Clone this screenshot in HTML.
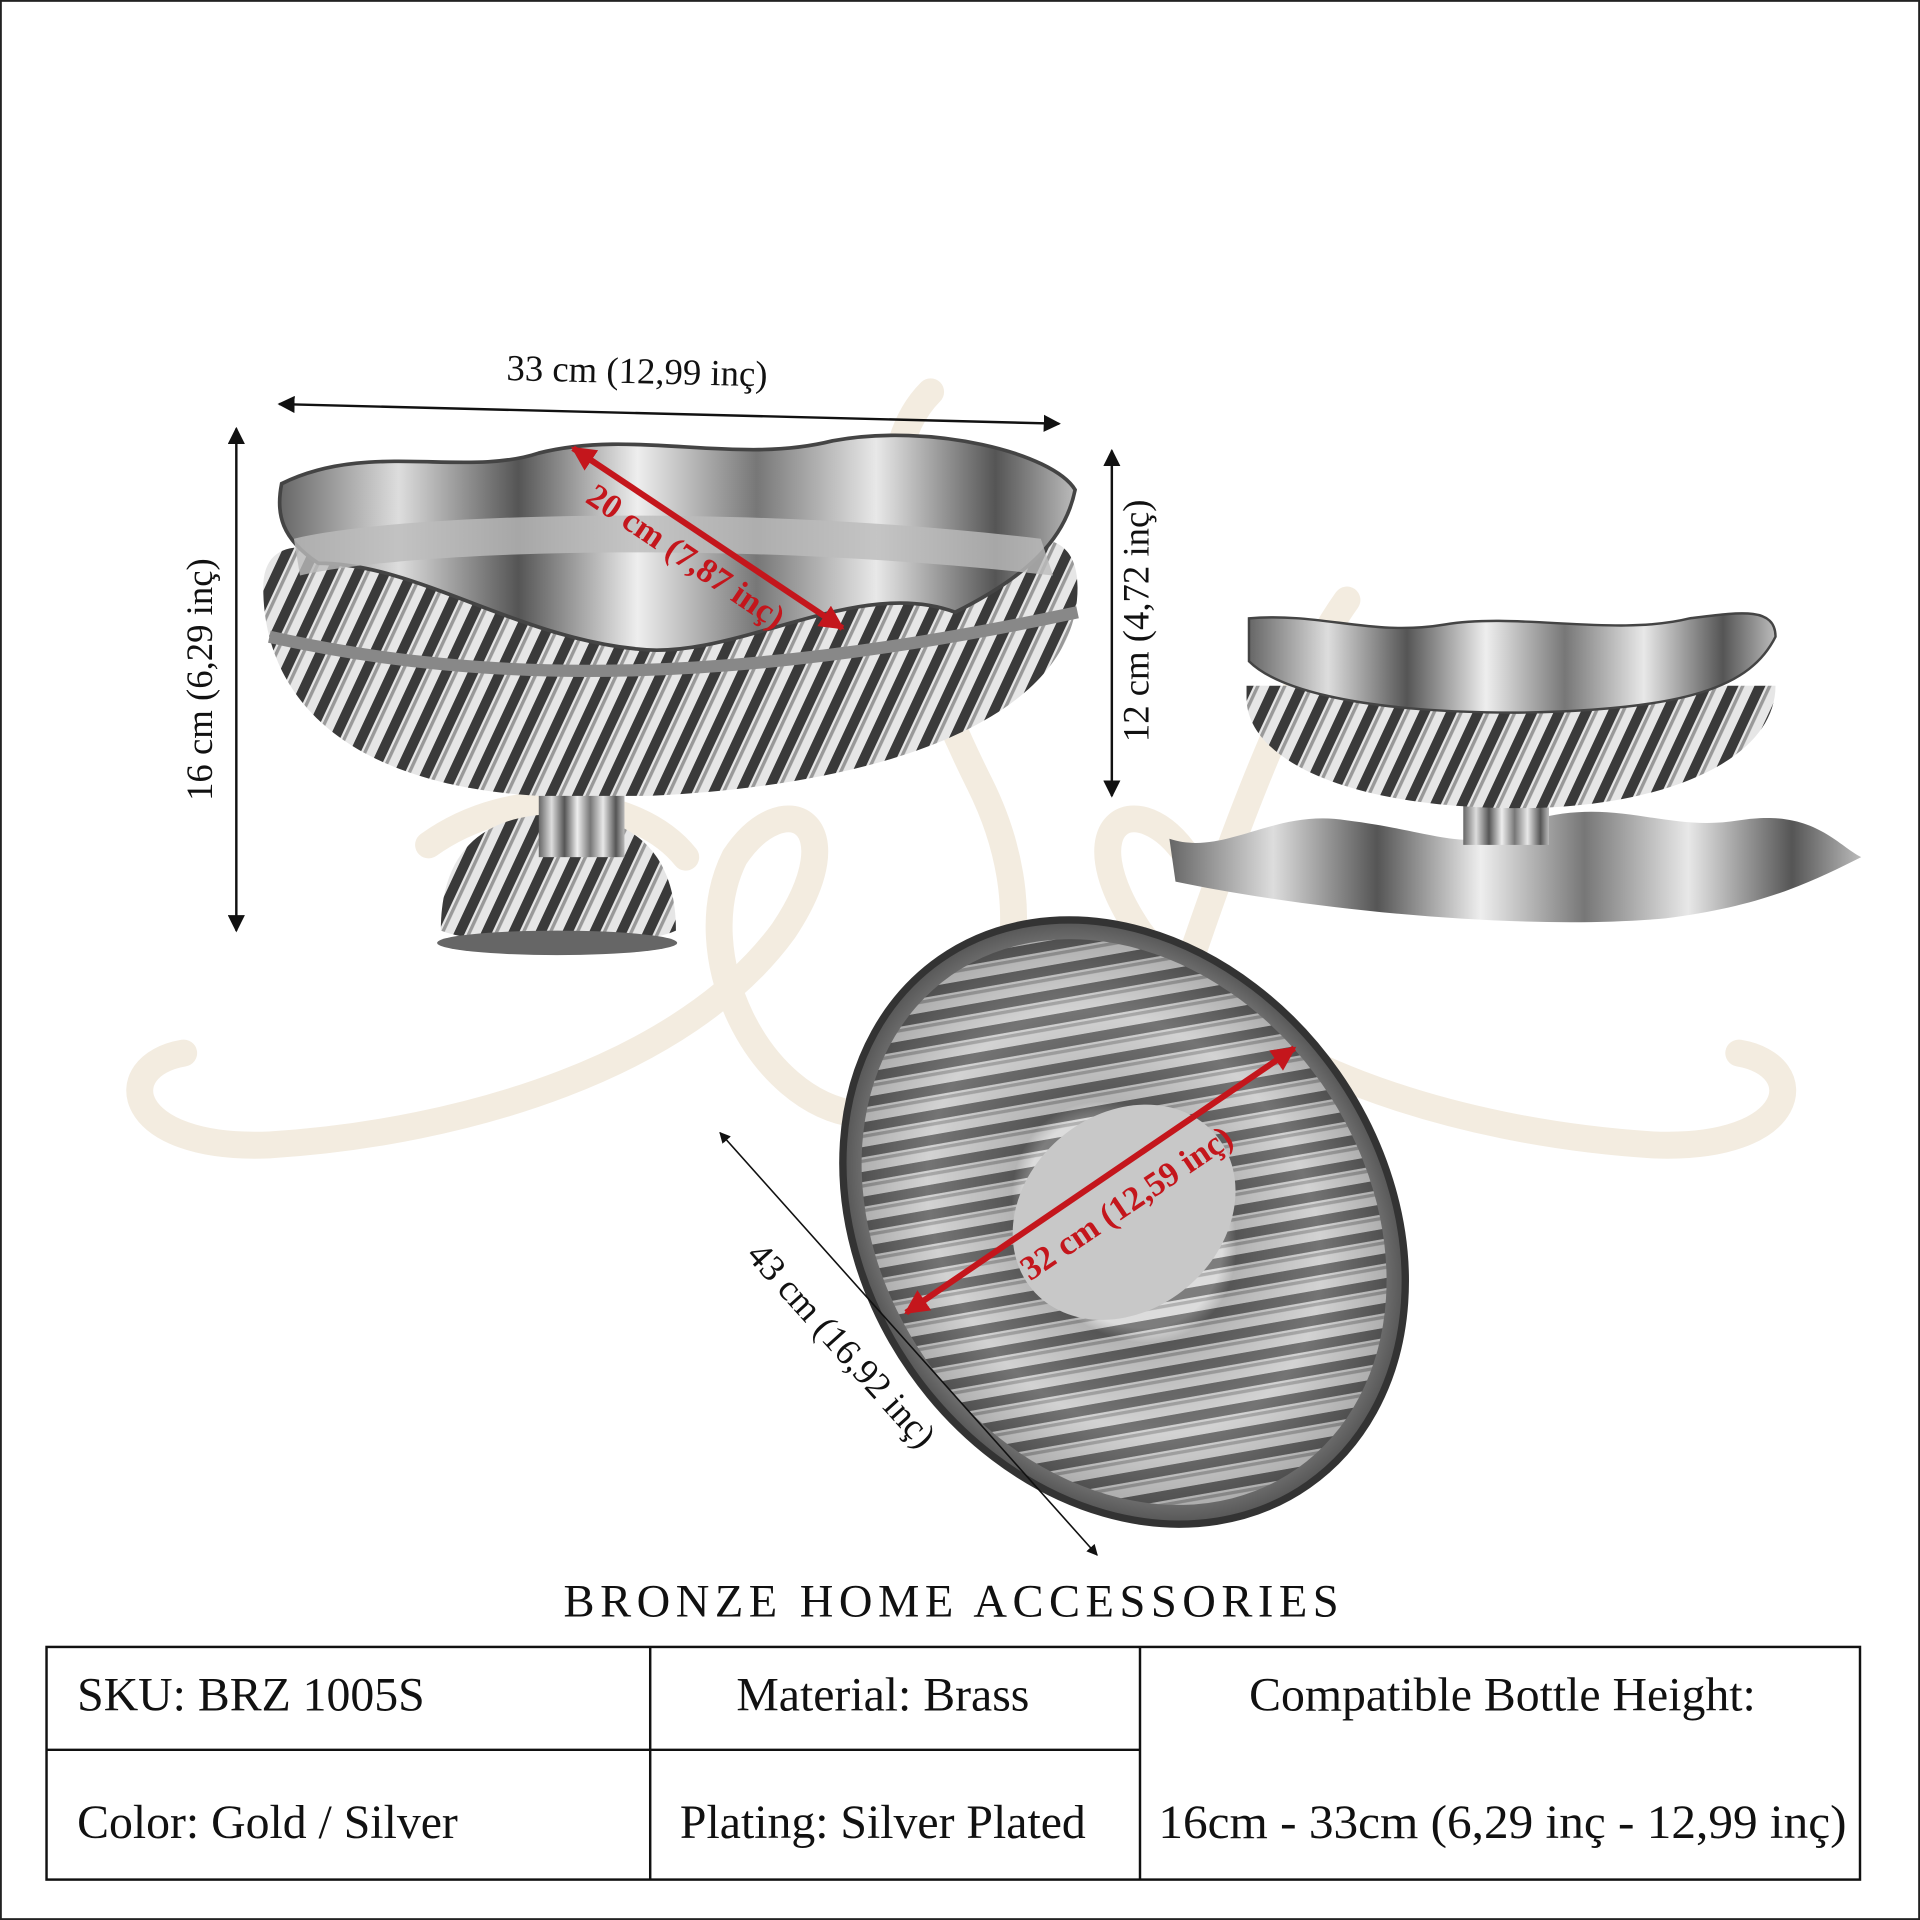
<!DOCTYPE html>
<html><head><meta charset="utf-8"><style>
html,body{margin:0;padding:0;background:#fff}
svg{display:block}
text{font-family:"Liberation Serif",serif}
</style></head><body>
<svg width="1920" height="1920" viewBox="0 0 1568 1568" xmlns="http://www.w3.org/2000/svg">
<defs>
<linearGradient id="sil" x1="0" y1="0" x2="1" y2="0">
<stop offset="0" stop-color="#666"/><stop offset="0.15" stop-color="#ddd"/><stop offset="0.3" stop-color="#555"/><stop offset="0.45" stop-color="#eee"/><stop offset="0.6" stop-color="#777"/><stop offset="0.75" stop-color="#e8e8e8"/><stop offset="0.9" stop-color="#555"/><stop offset="1" stop-color="#bbb"/>
</linearGradient>
<pattern id="rib" width="22" height="60" patternUnits="userSpaceOnUse" patternTransform="skewX(-25)">
<rect width="22" height="60" fill="#e6e6e6"/><rect width="9" height="60" fill="#3a3a3a"/><rect x="11" width="3" height="60" fill="#999"/>
</pattern>
<radialGradient id="plate" cx="0.5" cy="0.5" r="0.5">
<stop offset="0.35" stop-color="#cfcfcf"/><stop offset="0.4" stop-color="#777"/><stop offset="0.7" stop-color="#bbb"/><stop offset="1" stop-color="#555"/>
</radialGradient>
<marker id="ah" viewBox="0 0 10 10" refX="9" refY="5" markerWidth="7" markerHeight="7" orient="auto-start-reverse"><path d="M0,0 L10,5 L0,10 z" fill="#111"/></marker>
<marker id="ar" viewBox="0 0 10 10" refX="9" refY="5" markerWidth="4" markerHeight="4" orient="auto-start-reverse"><path d="M0,0 L10,5 L0,10 z" fill="#c4161c"/></marker>
</defs>
<rect x="0.5" y="0.5" width="1567" height="1567" fill="#fff" stroke="#222" stroke-width="2"/>
<g fill="none" stroke="#f3ece0" stroke-width="22" stroke-linecap="round">
<path d="M150,860 C90,870 100,940 220,935 C380,925 560,870 640,760 C700,670 640,640 600,700 C560,780 620,900 700,910"/>
<path d="M1420,860 C1480,870 1470,940 1350,935 C1190,925 1010,870 930,760 C870,670 930,640 970,700"/>
<path d="M760,320 C700,380 740,520 800,640 C850,740 830,840 760,900"/>
<path d="M1100,490 C1050,560 1000,700 960,820"/>
<path d="M350,690 C420,640 520,650 560,700"/>
</g>
<path d="M360,760 C360,690 400,665 455,665 C510,665 552,690 552,760 C520,775 400,775 360,760 Z" fill="url(#rib)"/>
<ellipse cx="455" cy="770" rx="98" ry="10" fill="#666"/>
<rect x="440" y="640" width="70" height="60" fill="url(#sil)"/>
<path d="M215,480 C215,560 270,640 440,650 L530,650 C740,640 880,580 880,480 C880,420 820,440 780,460 L300,460 C250,440 215,440 215,480 Z" fill="url(#rib)"/>
<path d="M230,395 C300,360 380,390 440,370 C520,350 600,380 680,360 C760,345 860,370 878,400 C870,440 840,470 780,500 C700,470 600,540 520,530 C420,520 340,460 260,460 C230,440 225,420 230,395 Z" fill="url(#sil)" stroke="#444" stroke-width="3"/>
<path d="M240,440 C320,420 600,410 850,440 L860,470 C600,440 330,450 245,470 Z" fill="#bbb" opacity="0.8"/>
<path d="M220,520 C400,560 600,560 880,500" fill="none" stroke="#888" stroke-width="10"/>
<path d="M955,685 C1000,700 1040,660 1100,670 C1180,680 1200,700 1250,670 C1320,650 1360,680 1420,670 C1480,660 1500,690 1520,700 C1480,720 1440,740 1360,750 C1250,760 1080,745 960,720 Z" fill="url(#sil)"/>
<rect x="1195" y="640" width="70" height="50" fill="url(#sil)"/>
<path d="M1018,570 C1018,620 1100,660 1240,660 C1360,660 1450,620 1450,560 L1018,560 Z" fill="url(#rib)"/>
<path d="M1020,505 C1080,500 1120,520 1180,510 C1240,500 1320,520 1380,505 C1420,500 1450,495 1450,520 C1430,560 1380,580 1240,582 C1100,582 1040,560 1020,540 Z" fill="url(#sil)" stroke="#444" stroke-width="2"/>
<g transform="rotate(55 918 998)">
<ellipse cx="918" cy="998" rx="262" ry="212" fill="url(#plate)" stroke="#333" stroke-width="6"/>
<ellipse cx="918" cy="998" rx="246" ry="197" fill="url(#rib)" opacity="0.55"/>
</g>
<ellipse cx="918" cy="990" rx="98" ry="80" transform="rotate(-40 918 990)" fill="#c8c8c8"/>
<g stroke="#111" stroke-width="2" fill="none">
<line x1="228" y1="330" x2="865" y2="346" marker-start="url(#ah)" marker-end="url(#ah)"/>
<line x1="193" y1="350" x2="193" y2="760" marker-start="url(#ah)" marker-end="url(#ah)"/>
<line x1="908" y1="368" x2="908" y2="650" marker-start="url(#ah)" marker-end="url(#ah)"/>
<line x1="588" y1="925" x2="896" y2="1270" stroke-width="1.3" marker-start="url(#ah)" marker-end="url(#ah)"/>
</g>
<g stroke="#c4161c" stroke-width="5">
<line x1="468" y1="366" x2="688" y2="513" marker-start="url(#ar)" marker-end="url(#ar)"/>
<line x1="740" y1="1072" x2="1057" y2="856" marker-start="url(#ar)" marker-end="url(#ar)"/>
</g>
<g font-size="30" fill="#111">
<text x="520" y="313" text-anchor="middle" transform="rotate(1.4 520 313)">33 cm (12,99 inç)</text>
<text transform="translate(173 555) rotate(-90)" text-anchor="middle">16 cm (6,29 inç)</text>
<text transform="translate(938 507) rotate(-90)" text-anchor="middle">12 cm (4,72 inç)</text>
<text transform="translate(680 1105) rotate(48)" text-anchor="middle">43 cm (16,92 inç)</text>
</g>
<g font-size="28" font-weight="bold" fill="#c4161c">
<text transform="translate(555 462) rotate(34)" text-anchor="middle">20 cm (7,87 inç)</text>
<text transform="translate(925 990) rotate(-34)" text-anchor="middle">32 cm (12,59 inç)</text>
</g>
<text x="779" y="1320" font-size="38" letter-spacing="4.5" text-anchor="middle" fill="#111">BRONZE HOME ACCESSORIES</text>
<g stroke="#111" stroke-width="2" fill="none">
<rect x="38" y="1345" width="1481" height="190"/>
<line x1="531" y1="1345" x2="531" y2="1535"/>
<line x1="931" y1="1345" x2="931" y2="1535"/>
<line x1="38" y1="1429" x2="931" y2="1429"/>
</g>
<g font-size="39" fill="#111">
<text x="63" y="1397">SKU: BRZ 1005S</text>
<text x="721" y="1397" text-anchor="middle">Material: Brass</text>
<text x="1227" y="1397" text-anchor="middle">Compatible Bottle Height:</text>
<text x="63" y="1501">Color: Gold / Silver</text>
<text x="721" y="1501" text-anchor="middle">Plating: Silver Plated</text>
<text x="1227" y="1501" text-anchor="middle" textLength="562" lengthAdjust="spacingAndGlyphs">16cm - 33cm (6,29 inç - 12,99 inç)</text>
</g>
</svg>
</body></html>
